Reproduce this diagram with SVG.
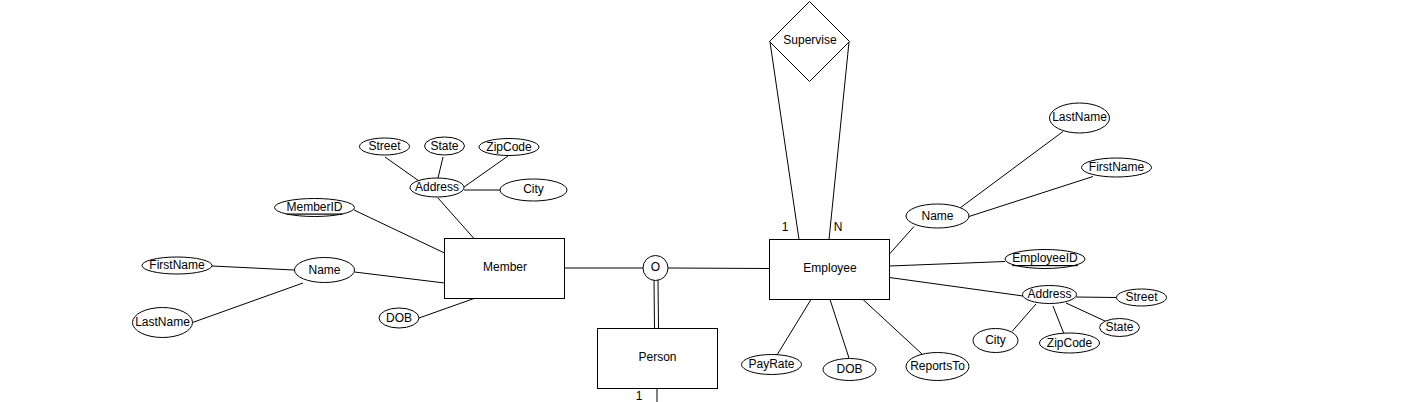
<svg xmlns="http://www.w3.org/2000/svg" width="1425" height="402" viewBox="0 0 1425 402">
<style>
.s{fill:#fff;stroke:#000;stroke-width:1}
.c line{stroke:#000;stroke-width:1}
text{font-family:"Liberation Sans",Arial,sans-serif;font-size:12px;fill:#000;text-anchor:middle;dominant-baseline:central}
.u{text-decoration:underline}
.b{dominant-baseline:alphabetic}
</style>
<rect width="1425" height="402" fill="#fff"/>
<g class="c" id="connectors">
<line x1="564.5" y1="268" x2="643" y2="268"/>
<line x1="668" y1="268" x2="769.5" y2="268.5"/>
<line x1="654" y1="280" x2="654.5" y2="328.5"/>
<line x1="658" y1="280" x2="658.5" y2="328.5"/>
<line x1="657" y1="388.5" x2="657" y2="402"/>
<line x1="770" y1="42" x2="799" y2="239.5"/>
<line x1="849" y1="42" x2="829" y2="239.5"/>
<line x1="385" y1="157" x2="419" y2="181"/>
<line x1="443" y1="157" x2="438" y2="178"/>
<line x1="508" y1="156" x2="464" y2="187"/>
<line x1="464" y1="190" x2="500" y2="190"/>
<line x1="438" y1="198" x2="474" y2="238.5"/>
<line x1="354" y1="210" x2="444.5" y2="253"/>
<line x1="212" y1="266" x2="294" y2="270"/>
<line x1="354.5" y1="272" x2="444.5" y2="283"/>
<line x1="192.5" y1="322.5" x2="303" y2="283"/>
<line x1="419" y1="318" x2="474" y2="298.5"/>
<line x1="960" y1="208" x2="1063" y2="131.5"/>
<line x1="969" y1="216.5" x2="1093" y2="176.5"/>
<line x1="889.5" y1="254" x2="914" y2="226.5"/>
<line x1="889.5" y1="266" x2="1005" y2="261.5"/>
<line x1="889.5" y1="277.5" x2="1023" y2="296"/>
<line x1="1076" y1="297" x2="1116.5" y2="297.5"/>
<line x1="1066" y1="303" x2="1106" y2="321.5"/>
<line x1="1053" y1="306" x2="1064" y2="334"/>
<line x1="1036" y1="304" x2="1012" y2="331.5"/>
<line x1="811" y1="299.5" x2="777" y2="355"/>
<line x1="830" y1="299.5" x2="849" y2="358"/>
<line x1="863" y1="299.5" x2="922" y2="354"/>
<text x="785" y="227">1</text>
<text x="838" y="227">N</text>
<text class="b" x="639" y="400">1</text>
</g>
<g id="member"><rect class="s" x="444.5" y="238.5" width="120" height="60"/><text x="505" y="267">Member</text></g>
<g id="person"><rect class="s" x="597.5" y="328.5" width="120" height="60"/><text x="657.5" y="357">Person</text></g>
<g id="employee"><rect class="s" x="769.5" y="239.5" width="120" height="60"/><text x="830" y="268">Employee</text></g>
<g id="disjoint"><circle class="s" cx="655.5" cy="268" r="12.5"/><text x="655.5" y="267">O</text></g>
<g id="supervise"><polygon class="s" points="809.5,1.5 849.5,41.5 809.5,81.5 769.5,41.5"/><text x="810" y="40">Supervise</text></g>
<g id="m-address"><ellipse class="s" cx="437" cy="187.5" rx="27" ry="9.5"/><text x="437" y="186.5">Address</text></g>
<g id="m-street"><ellipse class="s" cx="384.5" cy="146.5" rx="25" ry="8.5"/><text x="384.5" y="145.5">Street</text></g>
<g id="m-state"><ellipse class="s" cx="444.5" cy="146" rx="20" ry="9"/><text x="444.5" y="145.5">State</text></g>
<g id="m-zipcode"><ellipse class="s" cx="509" cy="147" rx="30" ry="8.5"/><text x="509" y="146.5">ZipCode</text></g>
<g id="m-city"><ellipse class="s" cx="533.5" cy="190" rx="33.5" ry="11"/><text x="533.5" y="189">City</text></g>
<g id="m-memberid"><ellipse class="s" cx="314.5" cy="207.5" rx="40" ry="9"/><text class="u" x="314.5" y="206.5">MemberID</text></g>
<g id="m-name"><ellipse class="s" cx="324.5" cy="270" rx="30" ry="12.5"/><text x="324.5" y="269.5">Name</text></g>
<g id="m-firstname"><ellipse class="s" cx="177" cy="265.5" rx="35" ry="8.5"/><text x="177" y="265">FirstName</text></g>
<g id="m-lastname"><ellipse class="s" cx="162.5" cy="322.5" rx="30" ry="15"/><text x="162.5" y="322">LastName</text></g>
<g id="m-dob"><ellipse class="s" cx="399" cy="318" rx="20" ry="10"/><text x="399" y="317.5">DOB</text></g>
<g id="e-name"><ellipse class="s" cx="937.5" cy="216" rx="31.5" ry="12"/><text x="937.5" y="215.5">Name</text></g>
<g id="e-lastname"><ellipse class="s" cx="1079.5" cy="118" rx="30" ry="15"/><text x="1079.5" y="117">LastName</text></g>
<g id="e-firstname"><ellipse class="s" cx="1116.5" cy="167.5" rx="35" ry="9.5"/><text x="1116.5" y="166.5">FirstName</text></g>
<g id="e-employeeid"><ellipse class="s" cx="1045" cy="259" rx="40" ry="9.5"/><text class="u" x="1045" y="258">EmployeeID</text></g>
<g id="e-address"><ellipse class="s" cx="1049.5" cy="294.5" rx="27" ry="9"/><text x="1049.5" y="293.5">Address</text></g>
<g id="e-street"><ellipse class="s" cx="1141.5" cy="297.5" rx="25" ry="8.5"/><text x="1141.5" y="296.5">Street</text></g>
<g id="e-state"><ellipse class="s" cx="1119.5" cy="327.5" rx="20" ry="9"/><text x="1119.5" y="326.5">State</text></g>
<g id="e-zipcode"><ellipse class="s" cx="1069.5" cy="343" rx="30" ry="10"/><text x="1069.5" y="342.5">ZipCode</text></g>
<g id="e-city"><ellipse class="s" cx="995.5" cy="340.5" rx="22.5" ry="12"/><text x="995.5" y="339.5">City</text></g>
<g id="e-payrate"><ellipse class="s" cx="771.5" cy="364.5" rx="30" ry="10"/><text x="771.5" y="363.5">PayRate</text></g>
<g id="e-dob"><ellipse class="s" cx="849.5" cy="369.5" rx="26.5" ry="11"/><text x="849.5" y="369">DOB</text></g>
<g id="e-reportsto"><ellipse class="s" cx="937.5" cy="366.5" rx="31.5" ry="14"/><text x="937.5" y="366">ReportsTo</text></g>
</svg>
